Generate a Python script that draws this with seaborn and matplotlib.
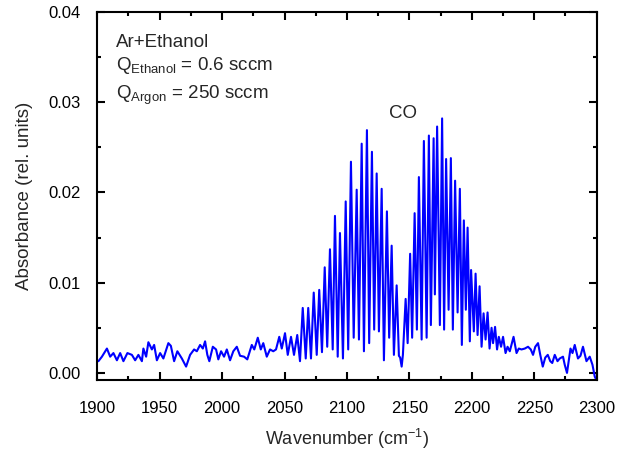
import numpy as np
import pandas as pd
import matplotlib
matplotlib.use("Agg")
import matplotlib.pyplot as plt
from matplotlib.ticker import MultipleLocator
import seaborn as sns

# Spectre (nombre d'onde en cm-1, absorbance)
wavenumber = [
    1901.0, 1903.8, 1907.8, 1910.4, 1913.0, 1915.8, 1918.4, 1921.0, 1924.2, 1927.8,
    1930.4, 1933.0, 1935.8, 1937.0, 1939.2, 1941.0, 1943.8, 1945.6, 1947.8, 1950.4,
    1953.0, 1957.0, 1959.0, 1961.6, 1964.2, 1967.8, 1971.2, 1974.4, 1977.6, 1979.8,
    1982.4, 1984.6, 1986.4, 1988.2, 1989.8, 1992.6, 1995.2, 1997.0, 1999.2, 2001.6,
    2003.8, 2006.4, 2009.0, 2011.8, 2014.4, 2017.6, 2020.2, 2023.8, 2025.8, 2028.6,
    2031.0, 2033.0, 2035.8, 2038.4, 2041.0, 2043.2, 2045.8, 2047.8, 2050.4, 2052.6,
    2055.2, 2057.6, 2060.2, 2062.4,
    2064.6, 2067.0, 2069.0, 2071.2, 2073.4, 2075.8, 2077.8, 2080.0, 2082.2, 2084.2,
    2086.4, 2088.6, 2090.4, 2092.6, 2094.4, 2096.8, 2099.0, 2101.0, 2103.2, 2105.4,
    2107.8, 2109.6, 2111.8, 2113.6, 2116.0, 2117.8, 2120.0, 2121.8, 2123.8, 2125.6,
    2127.8, 2129.6, 2132.0, 2133.8, 2135.8, 2137.6, 2139.8, 2141.6, 2142.6, 2143.8,
    2144.8, 2147.0, 2148.6, 2150.6, 2152.2, 2154.2, 2156.0, 2157.6, 2159.8, 2161.6,
    2163.8, 2165.6, 2167.2, 2169.4, 2170.4, 2172.2, 2174.4, 2176.2, 2177.8, 2179.4,
    2181.4, 2183.2, 2184.8, 2186.6, 2188.6, 2190.4, 2192.0, 2193.6, 2195.2, 2196.6,
    2198.4, 2199.4, 2201.6, 2203.0, 2204.6, 2206.2, 2207.8, 2209.4, 2211.0, 2212.6,
    2214.2, 2215.8, 2217.0, 2218.6, 2220.2, 2221.6, 2223.4, 2225.0, 2227.0, 2228.6,
    2230.4, 2233.4, 2235.8, 2237.6, 2239.8, 2242.4, 2245.0, 2247.2, 2249.0, 2250.8,
    2253.0, 2254.8, 2256.8, 2258.8, 2260.8, 2262.8, 2264.4, 2266.4, 2268.6, 2270.4,
    2273.0, 2274.4, 2276.2, 2279.0, 2280.6, 2282.4, 2285.0, 2287.0, 2289.0, 2291.8,
    2294.4, 2296.6, 2298.4, 2299.8,
]

absorbance = [
    0.0013, 0.0018, 0.0027, 0.0018, 0.0022, 0.0014, 0.0022, 0.0013, 0.0022, 0.0020,
    0.0014, 0.0020, 0.0013, 0.0027, 0.0018, 0.0034, 0.0026, 0.0031, 0.0014, 0.0022,
    0.0016, 0.0033, 0.0030, 0.0013, 0.0024, 0.0016, 0.0007, 0.0020, 0.0026, 0.0024,
    0.0031, 0.0027, 0.0035, 0.0020, 0.0013, 0.0029, 0.0026, 0.0015, 0.0024, 0.0018,
    0.0026, 0.0014, 0.0024, 0.0029, 0.0019, 0.0018, 0.0015, 0.0031, 0.0026, 0.0039,
    0.0026, 0.0033, 0.0018, 0.0026, 0.0024, 0.0026, 0.0040, 0.0027, 0.0044, 0.0020,
    0.0040, 0.0020, 0.0042, 0.0013,
    0.0072, 0.0016, 0.0072, 0.0016, 0.0089, 0.0020, 0.0092, 0.0023, 0.0117, 0.0029,
    0.0137, 0.0026, 0.0174, 0.0018, 0.0155, 0.0016, 0.0190, 0.0026, 0.0234, 0.0039,
    0.0203, 0.0037, 0.0254, 0.0024, 0.0269, 0.0033, 0.0245, 0.0048, 0.0221, 0.0046,
    0.0204, 0.0014, 0.0179, 0.0039, 0.0141, 0.0020, 0.0097, 0.0019, 0.0017, 0.0007,
    0.0020, 0.0082, 0.0033, 0.0132, 0.0039, 0.0177, 0.0048, 0.0217, 0.0037, 0.0257,
    0.0039, 0.0263, 0.0053, 0.0260, 0.0087, 0.0273, 0.0053, 0.0282, 0.0048, 0.0237,
    0.0070, 0.0238, 0.0048, 0.0213, 0.0067, 0.0204, 0.0031, 0.0169, 0.0070, 0.0161,
    0.0035, 0.0114, 0.0046, 0.0110, 0.0042, 0.0096, 0.0029, 0.0066, 0.0037, 0.0067,
    0.0027, 0.0050, 0.0033, 0.0051, 0.0026, 0.0040, 0.0029, 0.0040, 0.0022, 0.0029,
    0.0024, 0.0040, 0.0022, 0.0027, 0.0026, 0.0027, 0.0029, 0.0026, 0.0020, 0.0029,
    0.0033, 0.0020, 0.0007, 0.0017, 0.0020, 0.0013, 0.0011, 0.0020, 0.0013, 0.0016,
    0.0018, 0.0009, 0.0000, 0.0027, 0.0022, 0.0031, 0.0016, 0.0019, 0.0029, 0.0013,
    0.0018, 0.0009, -0.0004, -0.0008,
]

spectre = pd.DataFrame({"Wavenumber": wavenumber, "Absorbance": absorbance})

sns.set_style("ticks")
plt.rcParams["font.family"] = ["Liberation Sans", "DejaVu Sans"]
plt.rcParams["mathtext.fontset"] = "custom"
plt.rcParams["mathtext.rm"] = "Liberation Sans"
plt.rcParams["mathtext.it"] = "Liberation Sans"

fig = plt.figure(figsize=(6.19, 4.58), dpi=100)
ax = fig.add_axes([0.157, 0.170, 0.807, 0.804])

sns.lineplot(
    data=spectre,
    x="Wavenumber",
    y="Absorbance",
    color="#0000ff",
    linewidth=1.5,
    sort=False,
    ax=ax,
)

ax.set_xlim(1900, 2300)
ax.set_ylim(-0.0008, 0.04)
ax.xaxis.set_major_locator(MultipleLocator(50))
ax.xaxis.set_minor_locator(MultipleLocator(25))
ax.yaxis.set_major_locator(MultipleLocator(0.01))
ax.yaxis.set_minor_locator(MultipleLocator(0.005))
ax.yaxis.set_major_formatter(plt.FuncFormatter(lambda v, p: f"{v:.2f}"))

ax.tick_params(which="both", direction="in", top=True, right=True,
               labelsize=12, colors="black", width=1.5)
ax.tick_params(which="major", length=6, pad=12)
ax.tick_params(axis="x", which="major", pad=15)
ax.tick_params(which="minor", length=3)
for spine in ax.spines.values():
    spine.set_linewidth(1.5)
    spine.set_color("black")

ax.set_xlabel("Wavenumber (cm$^{-1}$)", fontsize=13, labelpad=8)
ax.set_ylabel("Absorbance (rel. units)", fontsize=13.5, labelpad=11)

ax.text(0.038, 0.906, "Ar+Ethanol", transform=ax.transAxes, fontsize=13.5,
        va="baseline")
ax.text(0.038, 0.842, "Q$_{\\mathrm{Ethanol}}$ = 0.6 sccm", transform=ax.transAxes,
        fontsize=13.5, va="baseline")
ax.text(0.038, 0.763, "Q$_{\\mathrm{Argon}}$ = 250 sccm", transform=ax.transAxes,
        fontsize=13.5, va="baseline")
ax.text(2144.8, 0.0283, "CO", fontsize=13.5, ha="center", va="baseline")

fig.savefig("out.png", dpi=100)
